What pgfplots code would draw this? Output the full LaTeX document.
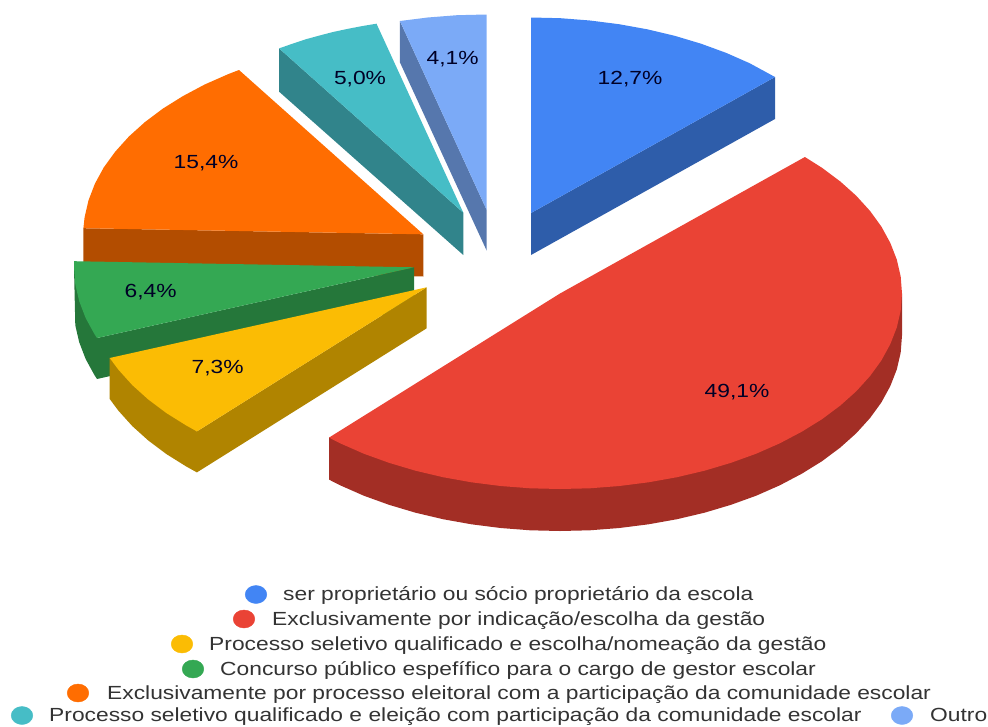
\documentclass[border=0pt]{standalone}
\usepackage{fontspec}
\setmainfont[FakeStretch=1.2]{Liberation Sans}
\usepackage{pgfplots}
\pgfplotsset{compat=1.18}
\definecolor{cblue}{HTML}{4285F4}\definecolor{cblueD}{HTML}{2E5DAA}
\definecolor{cred}{HTML}{EA4335}\definecolor{credD}{HTML}{A32E25}
\definecolor{cyel}{HTML}{FBBC04}\definecolor{cyelD}{HTML}{B08400}
\definecolor{cgre}{HTML}{34A853}\definecolor{cgreD}{HTML}{25773A}
\definecolor{cora}{HTML}{FF6D01}\definecolor{coraD}{HTML}{B34D00}
\definecolor{ctea}{HTML}{46BDC6}\definecolor{cteaD}{HTML}{31848B}
\definecolor{cper}{HTML}{7BAAF7}\definecolor{cperD}{HTML}{5677AD}
\tikzset{
  pct/.style={font=\fontsize{19}{23}\selectfont, text=black!85!blue},
  leg/.style={font=\fontsize{19}{23}\selectfont, text=black!80, anchor=base west, inner sep=0pt},
  dot/.style={only marks, mark=*, mark size=9pt, mark options={solid, draw=#1, fill=#1, xscale=1.2}},
}
\begin{document}
\begin{tikzpicture}
\path[use as bounding box] (0,0) rectangle (988pt,726pt);
\begin{axis}[
    scale only axis, width=988pt, height=726pt,
    xmin=0, xmax=988, ymin=0, ymax=726, y dir=reverse,
    hide axis, clip=false,
    every axis plot/.append style={draw=none},
]
% blue
\addplot[fill=cblueD] coordinates {(775,77)(775,119)(531,255)(531,213)} -- cycle;
\addplot[fill=cblue] coordinates {(531,213)(531,17.5)(560.6,18.2)(590,20.5)(619,24.2)(647.3,29.3)(674.7,35.8)(701,43.7)(726,52.8)(749.6,63.2)(775,77)} -- cycle;
% red
\addplot[fill=credD] coordinates {(902,293.5)(902,335.5)(900.7,352.5)(896.8,369.4)(890.3,386.1)(881.4,402.4)(870,418.1)(856.2,433.3)(840.2,447.6)(822,461.2)(801.8,473.7)(779.8,485.3)(756.2,495.7)(731,504.8)(704.5,512.7)(677,519.2)(648.5,524.3)(619.4,528)(589.8,530.3)(560,531)(530.2,530.3)(500.6,528)(471.5,524.3)(443,519.2)(415.5,512.7)(389,504.8)(363.8,495.7)(340.2,485.3)(329,479.6)(329,437.6)} -- cycle;
\addplot[fill=cred] coordinates {(560,293.5)(804.9,157)(822,167.8)(840.2,181.4)(856.2,195.7)(870,210.9)(881.4,226.6)(890.3,242.9)(896.8,259.6)(900.7,276.5)(902,293.5)(900.7,310.5)(896.8,327.4)(890.3,344.1)(881.4,360.4)(870,376.1)(856.2,391.3)(840.2,405.6)(822,419.2)(801.8,431.7)(779.8,443.3)(756.2,453.7)(731,462.8)(704.5,470.7)(677,477.2)(648.5,482.3)(619.4,486)(589.8,488.3)(560,489)(530.2,488.3)(500.6,486)(471.5,482.3)(443,477.2)(415.5,470.7)(389,462.8)(363.8,453.7)(340.2,443.3)(329,437.6)} -- cycle;
% teal
\addplot[fill=cteaD] coordinates {(279.1,48.4)(279.1,91.7)(463.3,255)(463.3,212.7)} -- cycle;
\addplot[fill=ctea] coordinates {(463.3,212.7)(279.1,48.4)(293.3,43.4)(306,39.2)(319.6,35.5)(333,32)(347,29)(361.5,26.2)(376.5,23.7)} -- cycle;
% light blue
\addplot[fill=cperD] coordinates {(399.9,21)(399.9,62.3)(486.7,250.7)(486.7,210)} -- cycle;
\addplot[fill=cper] coordinates {(486.7,210)(399.9,21)(427.7,17.5)(457,15.2)(486.7,14.5)} -- cycle;
% orange
\addplot[fill=coraD] coordinates {(83.4,228.2)(83.4,270.2)(423.3,276.5)(423.3,234.3)} -- cycle;
\addplot[fill=cora] coordinates {(423.3,234.3)(83.4,228.2)(84.6,217.3)(88.5,200.4)(94.9,183.7)(103.8,167.4)(115.2,151.7)(128.9,136.5)(144.8,122.2)(162.9,108.6)(182.9,96.1)(204.7,84.5)(228.3,74.1)(239,70)} -- cycle;
% green
\addplot[fill=cgreD] coordinates {(74,267.3)(75.3,325.3)(79.2,342.2)(85.6,358.9)(94.5,375.2)(97,379)(414,308)(414,267.3)(97,338)} -- cycle;
\addplot[fill=cgre] coordinates {(414,267.3)(74,261.2)(74,267.3)(75.3,284.3)(79.2,301.2)(85.6,317.9)(94.5,334.2)(97,338)} -- cycle;
% yellow
\addplot[fill=cyelD] coordinates {(426.7,287.3)(426.7,328.3)(196.9,472.4)(186.3,466.5)(166.3,454)(148.2,440.4)(132.3,426.1)(118.6,410.9)(109.7,399)(109.7,358)(196.9,431.4)} -- cycle;
\addplot[fill=cyel] coordinates {(426.7,287.3)(196.9,431.4)(186.3,425.5)(166.3,413)(148.2,399.4)(132.3,385.1)(118.6,369.9)(109.7,358)} -- cycle;
% percent labels
\node[pct] at (axis cs:630,79) {12,7\%};
\node[pct] at (axis cs:737,392) {49,1\%};
\node[pct] at (axis cs:217.7,368.3) {7,3\%};
\node[pct] at (axis cs:150.7,291.7) {6,4\%};
\node[pct] at (axis cs:206,163.3) {15,4\%};
\node[pct] at (axis cs:360,78.7) {5,0\%};
\node[pct] at (axis cs:452.7,58.7) {4,1\%};
% legend
\addplot[dot=cblue] coordinates {(256,594.5)};
\addplot[dot=cred] coordinates {(244,619)};
\addplot[dot=cyel] coordinates {(182,644)};
\addplot[dot=cgre] coordinates {(193,669)};
\addplot[dot=cora] coordinates {(78,693)};
\addplot[dot=ctea] coordinates {(22,715.5)};
\addplot[dot=cper] coordinates {(902,715.5)};
\node[leg] at (axis cs:283,600.5) {ser proprietário ou sócio proprietário da escola};
\node[leg] at (axis cs:272,625) {Exclusivamente por indicação/escolha da gestão};
\node[leg] at (axis cs:209,650) {Processo seletivo qualificado e escolha/nomeação da gestão};
\node[leg] at (axis cs:220,675) {Concurso público espefífico para o cargo de gestor escolar};
\node[leg] at (axis cs:107,699) {Exclusivamente por processo eleitoral com a participação da comunidade escolar};
\node[leg] at (axis cs:49,721.5) {Processo seletivo qualificado e eleição com participação da comunidade escolar};
\node[leg] at (axis cs:930,721.5) {Outro};
\end{axis}
\end{tikzpicture}
\end{document}
